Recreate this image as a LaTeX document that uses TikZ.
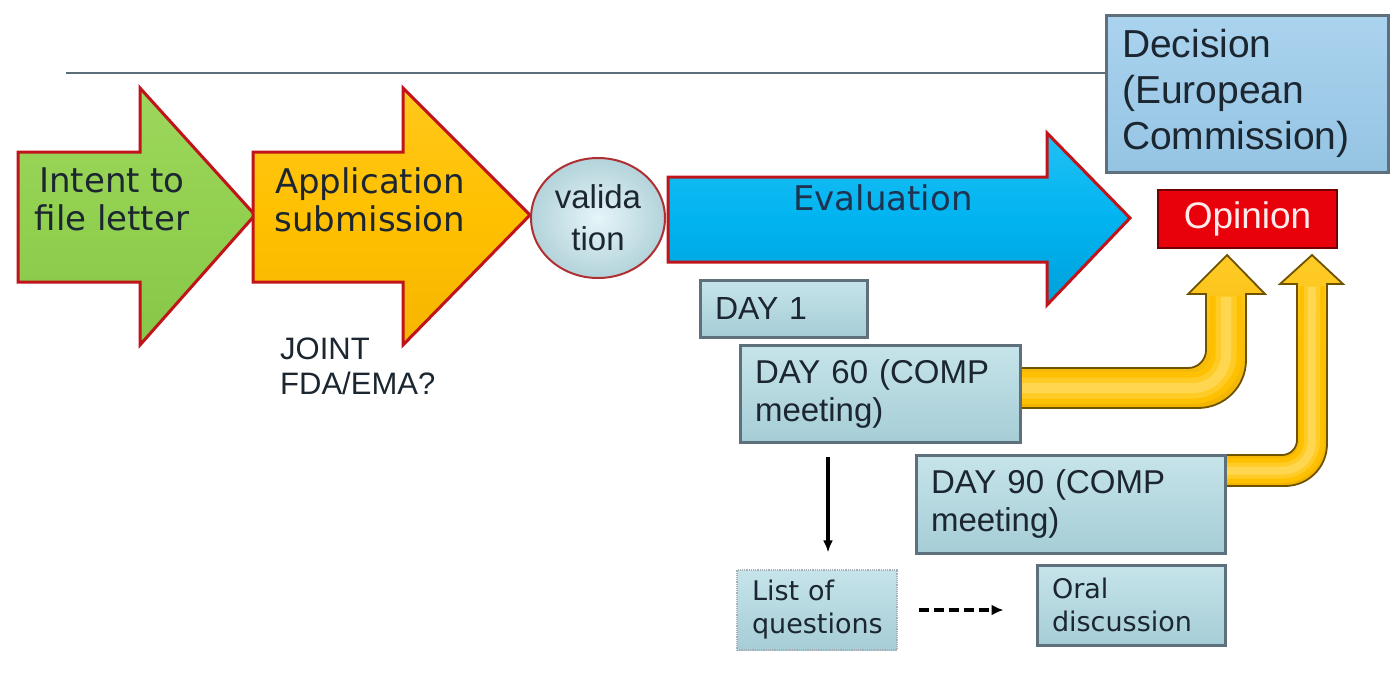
\documentclass[tikz,border=0pt]{standalone}
\usepackage{fontspec}
\setmainfont{Liberation Sans}
\newfontfamily\verd{DejaVu Sans}
\usetikzlibrary{arrows.meta,calc,shapes.geometric}

\definecolor{ink}{HTML}{1B2630}
\definecolor{navy}{HTML}{1E3350}
\definecolor{edgered}{HTML}{C0141A}
\definecolor{greentop}{HTML}{9DD75C}
\definecolor{greenmid}{HTML}{92D050}
\definecolor{greenbot}{HTML}{88C649}
\definecolor{goldtop}{HTML}{FFC81C}
\definecolor{goldmid}{HTML}{FFC000}
\definecolor{goldbot}{HTML}{F6B500}
\definecolor{bluetop}{HTML}{22C0F4}
\definecolor{bluemid}{HTML}{00B4F0}
\definecolor{bluebot}{HTML}{00A0DA}
\definecolor{boxtop}{HTML}{C6E4EA}
\definecolor{boxbot}{HTML}{A6CDD6}
\definecolor{boxedge}{HTML}{5E707B}
\definecolor{dectop}{HTML}{AAD3EE}
\definecolor{decbot}{HTML}{95C4E3}
\definecolor{opred}{HTML}{E8000B}
\definecolor{tubedark}{HTML}{F2B400}
\definecolor{tubemid}{HTML}{FFC000}
\definecolor{tubehi}{HTML}{FFCB26}
\definecolor{tubelight}{HTML}{FFD650}
\definecolor{tubeedge}{HTML}{6E5200}
\definecolor{rulecol}{HTML}{5A6E7C}
\definecolor{valin}{HTML}{E6F5F9}
\definecolor{valout}{HTML}{B3D3DA}

\newcommand\lblverd{\verd\fontsize{34}{38}\selectfont}
\newcommand\lblday{\fontsize{33}{38}\selectfont}
\newcommand\lblsmall{\verd\fontsize{27}{33}\selectfont}

\begin{document}
\begin{tikzpicture}[x=1pt,y=-1pt,
  blockarrow/.style={draw=edgered, line width=3pt, line join=miter},
  daybox/.style={draw=boxedge, line width=3pt, top color=boxtop, bottom color=boxbot,
    inner xsep=15pt, inner ysep=0pt, align=left, text=ink, font=\lblday},
  tubearrow/.style={draw=tubeedge, line width=1.8pt, line join=miter,
    top color=tubehi, bottom color=tubedark},
  conn/.style={-{Latex[length=12pt,width=10pt]}, line width=3.2pt, black},
  dashconn/.style={-{Latex[length=12pt,width=11pt]}, line width=4pt, black, dash pattern=on 10pt off 5pt},
  plain/.style={text=ink, inner sep=0pt}
]
\useasboundingbox (0,0) rectangle (1396,689);
\fill[white] (0,0) rectangle (1396,689);

% heading rule
\coordinate (rl) at (66,73);

% process arrows
\path[blockarrow, top color=greentop, bottom color=greenbot, middle color=greenmid]
  (18,152) -- (140,152) -- (140,88) -- (255,215) -- (140,345) -- (140,282) -- (18,282) -- cycle;
\path[blockarrow, top color=goldtop, bottom color=goldbot, middle color=goldmid]
  (253,152) -- (403,152) -- (403,88) -- (530,215) -- (403,345) -- (403,282) -- (253,282) -- cycle;
\path[blockarrow, top color=bluetop, bottom color=bluebot, middle color=bluemid]
  (668,177) -- (1047,177) -- (1047,133) -- (1130,218) -- (1047,305) -- (1047,262) -- (668,262) -- cycle;

% bent arrows feeding the opinion (tube look: darker rim, lighter core)
\path[tubearrow]
  (1020,368) -- (1188,368) .. controls (1198,368) and (1206,360) .. (1206,350)
  -- (1206,294) -- (1188,294) -- (1227,255) -- (1265,294) -- (1246,294) -- (1246,360)
  .. controls (1246,386.5) and (1224.5,408) .. (1198,408) -- (1020,408) -- cycle;
\draw[tubemid, line width=32pt]
  (1021,388) -- (1193,388) .. controls (1211,388) and (1226,373) .. (1226,355) -- (1226,296);
\draw[tubehi, line width=21pt]
  (1021,388) -- (1193,388) .. controls (1211,388) and (1226,373) .. (1226,355) -- (1226,296);
\draw[tubelight, line width=10pt]
  (1021,388) -- (1193,388) .. controls (1211,388) and (1226,373) .. (1226,355) -- (1226,297);
\path[tubearrow]
  (1225,455) -- (1282,455) .. controls (1290.3,455) and (1297,448.3) .. (1297,440)
  -- (1297,284) -- (1280,284) -- (1312,255) -- (1343,284) -- (1327,284) -- (1327,444)
  .. controls (1327,467.2) and (1308.2,486) .. (1285,486) -- (1225,486) -- cycle;
\draw[tubemid, line width=25pt]
  (1226,470.5) -- (1283,470.5) .. controls (1299,470.5) and (1312,457.5) .. (1312,441) -- (1312,286);
\draw[tubehi, line width=16pt]
  (1226,470.5) -- (1283,470.5) .. controls (1299,470.5) and (1312,457.5) .. (1312,441) -- (1312,286);
\draw[tubelight, line width=8pt]
  (1226,470.5) -- (1283,470.5) .. controls (1299,470.5) and (1312,457.5) .. (1312,441) -- (1312,287);

% validation step
\node[ellipse, draw=edgered!75!gray, line width=2pt, minimum width=134pt, minimum height=120pt,
  inner color=valin, outer color=valout, align=center, text=ink,
  font=\fontsize{33}{42}\selectfont, inner sep=0pt] (val) at (598,218) {valida\\tion};

% labels on the process arrows
\node[plain, align=center, font=\lblverd] (intent) at (112,199) {Intent to\\file letter};
\node[plain, align=center, font=\lblverd] (appl) at (370,200) {Application\\submission};
\node[plain, text=navy, font=\lblverd] (eval) at (883,198) {Evaluation};
\node[plain, anchor=west, align=left, font=\fontsize{31}{35}\selectfont] (joint) at (280,366) {JOINT\\FDA/EMA?};

% decision and opinion
\node[draw=boxedge, line width=3pt, top color=dectop, bottom color=decbot, text=ink,
  text width=250pt, inner xsep=16pt, inner ysep=0pt, minimum height=157pt, align=left,
  font=\fontsize{39}{46}\selectfont] (dec) at (1247,93.5) {Decision\\(European\\Commission)};
\node[draw=black!55!red, line width=2.5pt, fill=opred, minimum width=179pt, minimum height=58pt,
  text=red!8!white, font=\fontsize{37}{40}\selectfont, inner sep=0pt] (op) at (1247.5,219) {Opinion};

\draw[rulecol, line width=1.8pt] (rl) -- (rl -| dec.west);

% milestones
\node[daybox, text width=137pt, minimum height=57pt, font=\fontsize{32}{38}\selectfont] (d1) at (783.5,308.5) {DAY 1};
\node[daybox, text width=250pt, minimum height=97pt] (d60) at (880,393.5) {DAY 60 (COMP\\meeting)};
\node[daybox, text width=279pt, minimum height=98pt] (d90) at (1070.5,504) {DAY 90 (COMP\\meeting)};
\node[daybox, draw=boxedge!55, line width=1.2pt, densely dotted, text width=130pt, minimum height=80pt,
  font=\lblsmall] (lq) at (817,610) {List of\\questions};
\node[daybox, text width=158pt, minimum height=80pt, font=\lblsmall] (oral) at (1131,605) {Oral\\discussion};

% connectors
\coordinate (qx) at (828,0);
\draw[conn, shorten <=13pt, shorten >=17pt] (d60.south -| qx) -- (lq.north -| qx);
\draw[dashconn, shorten <=21pt, shorten >=32pt] (lq.east) -- (lq.east -| oral.west);
\end{tikzpicture}
\end{document}
